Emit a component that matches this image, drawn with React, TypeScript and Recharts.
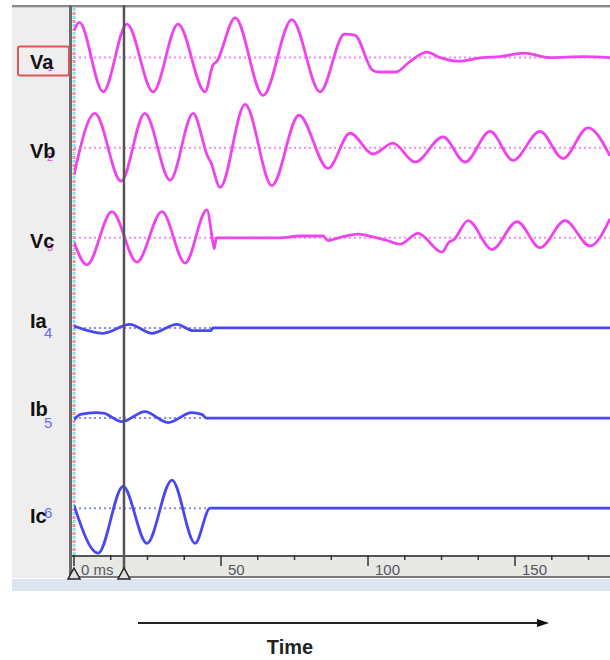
import React from "react";
import {
  ComposedChart,
  Line,
  XAxis,
  YAxis,
  ReferenceLine,
  ReferenceDot,
} from "recharts";

// channel names, top to bottom
const ROW_LABELS = ["Va", "Vb", "Vc", "Ia", "Ib", "Ic"];
const CHANNEL_NO = ["1", "2", "3", "4", "5", "6"];

// [time ms, value], one row spacing = 1.0
const VA = [
  [0, 0.3], [1.8, 0.39], [9.9, -0.38], [18.0, 0.37], [26.9, -0.38],
  [35.4, 0.37], [44.6, -0.38], [47.3, -0.08], [48.4, -0.05], [54.8, 0.44],
  [64.3, -0.42], [74.1, 0.42], [83.7, -0.38], [92.0, 0.26], [95.5, 0.25],
  [101.5, -0.14], [103.5, -0.16], [109.5, -0.16], [114, -0.05], [120, 0.06],
  [124.5, 0.0], [130.6, -0.04], [139, 0.0], [145, 0.01], [153, 0.05],
  [162, 0.0], [173, 0.01], [182.3, 0.0],
];
const VB = [
  [0, -0.3], [7.1, 0.38], [16.0, -0.37], [24.1, 0.38], [32.7, -0.36],
  [40.5, 0.38], [45.5, -0.1], [46.5, -0.16], [49.7, -0.44], [58.2, 0.48],
  [67.3, -0.42], [76.5, 0.36], [86.4, -0.23], [93.9, 0.16], [101.7, -0.07],
  [108.5, 0.05], [116, -0.16], [125.5, 0.12], [133, -0.16], [141.5, 0.18],
  [149.3, -0.14], [158.5, 0.18], [166.3, -0.12], [174.8, 0.22], [182.3, -0.09],
];
const VC = [
  [0, -0.05], [4.4, -0.3], [12.9, 0.29], [21.4, -0.27], [29.9, 0.29],
  [37.8, -0.28], [45.2, 0.31], [47.3, -0.06], [47.7, -0.12], [48.4, 0.0],
  [70, 0.0], [76.9, 0.02], [84.7, 0.02], [86.4, -0.03], [90, 0.0],
  [96.6, 0.04], [101.7, 0.01], [106.5, -0.03], [110.9, -0.07], [117, 0.05],
  [125.2, -0.16], [127.5, -0.05], [129.2, -0.02], [134, 0.19], [142.2, -0.13],
  [150.7, 0.18], [158.5, -0.11], [167, 0.19], [175.5, -0.09], [182.3, 0.21],
];
const IA = [
  [0, 0.02], [9.9, -0.06], [19, 0.04], [26.5, -0.06], [35, 0.04],
  [40.5, -0.03], [46.5, -0.03], [47.3, 0.0], [182.3, 0.0],
];
const IB = [
  [0, -0.02], [2.2, 0.04], [7.5, 0.06], [10, 0.055], [16.3, -0.04],
  [24.1, 0.07], [32, -0.05], [40, 0.06], [43.5, 0.04], [45, 0.0],
  [182.3, 0.0],
];
const IC = [
  [0, 0.03], [8.2, -0.5], [16.7, 0.24], [24.8, -0.39], [33.3, 0.31],
  [41.2, -0.39], [46.3, 0.0], [182.3, 0.0],
];

const SERIES = [VA, VB, VC, IA, IB, IC];
const TIME_TICKS = [0, 12.5, 25, 37.5, 50, 62.5, 75, 87.5, 100, 112.5, 125, 137.5, 150, 162.5, 175];
const CURSOR_MS = 17;

const V_COLOR = "#ee44ee";
const V_BASE = "#f28af2";
const I_COLOR = "#4848f0";
const I_BASE = "#8a8af6";
const FONT = "'Liberation Sans', Arial, sans-serif";

const rowOf = (i: number) => ROW_LABELS.length - 1 - i;
const isVoltage = (i: number) => ROW_LABELS[i].startsWith("V");

const LABEL_DY: Record<string, number> = { Va: 11, Vb: 10, Vc: 10, Ia: 0, Ib: -2, Ic: 15 };

function RowLabel(props: any) {
  const { y, payload } = props;
  const i = ROW_LABELS.length - 1 - payload.value;
  const name = ROW_LABELS[i];
  const volt = isVoltage(i);
  return (
    <g>
      <text
        x={volt ? 47 : 44}
        y={y + (volt ? 13 : 10)}
        fontSize={volt ? 11 : 15}
        fontFamily={FONT}
        fill={volt ? V_COLOR : "#6a6af5"}
      >
        {CHANNEL_NO[i]}
      </text>
      {name === "Va" && (
        <rect x={18} y={y - 11} width={51} height={29} rx={2} fill="none" stroke="#e05555" strokeWidth={2} />
      )}
      <text x={30} y={y + LABEL_DY[name]} fontSize={20} fontWeight="bold" fontFamily={FONT} fill="#111">
        {name}
      </text>
    </g>
  );
}

function TimeTick(props: any) {
  const { x, y, payload } = props;
  const v = payload.value;
  const major = v % 50 === 0;
  return (
    <g>
      <line x1={x} x2={x} y1={y} y2={y + (major ? 11 : 5)} stroke="#333" strokeWidth={1.5} />
      {major && (
        <text x={x + 7} y={y + 20} fontSize={15} fontFamily={FONT} fill="#556">
          {v === 0 ? "0 ms" : v}
        </text>
      )}
    </g>
  );
}

function CursorMark(props: any) {
  const { cx, cy } = props;
  return (
    <path
      d={`M${cx - 6},${cy + 24} L${cx + 6},${cy + 24} L${cx},${cy + 13} Z`}
      fill="#e0e0e0"
      stroke="#222"
      strokeWidth={1.5}
    />
  );
}

export default function App() {
  return (
    <div style={{ position: "absolute", left: 0, top: 0, width: 610, height: 660, background: "#fff", fontFamily: FONT }}>
      {/* left channel panel */}
      <div style={{ position: "absolute", left: 12, top: 7, width: 58, height: 571, background: "#eeeeee" }} />
      {/* time axis strip */}
      <div style={{ position: "absolute", left: 70, top: 555, width: 540, height: 23, background: "#e8e8e4", borderTop: "2px solid #555", borderBottom: "2px solid #7a7a7a", boxSizing: "border-box" }} />
      <div style={{ position: "absolute", left: 12, top: 579, width: 598, height: 12, background: "#dde6f0" }} />
      {/* top frame */}
      <div style={{ position: "absolute", left: 12, top: 5, width: 598, height: 2, background: "#888" }} />
      <div style={{ position: "absolute", left: 12, top: 7, width: 598, height: 1, background: "#d0d0d0" }} />
      {/* left axis line */}
      <div style={{ position: "absolute", left: 69, top: 5, width: 3, height: 573, background: "#6a6a6a" }} />

      <div style={{ position: "absolute", left: 0, top: 0 }}>
        <ComposedChart width={610} height={660} margin={{ top: 8, right: 0, left: 0, bottom: 83 }}>
          <XAxis
            type="number"
            dataKey="t"
            domain={[0, 182.3]}
            allowDataOverflow
            ticks={TIME_TICKS}
            interval={0}
            tick={<TimeTick />}
            tickLine={false}
            axisLine={false}
            tickSize={0}
            tickMargin={0}
            height={22}
          />
          <YAxis
            type="number"
            domain={[-0.52, 5.55]}
            allowDataOverflow
            ticks={[0, 1, 2, 3, 4, 5]}
            interval={0}
            tick={<RowLabel />}
            tickLine={false}
            axisLine={false}
            width={74}
          />
          <ReferenceLine x={0} stroke="#80e2e2" strokeWidth={3} strokeDasharray="3 5" />
          <ReferenceLine x={0} stroke="#f09090" strokeWidth={3} strokeDasharray="3 5" strokeDashoffset={4} />
          {SERIES.map((_, i) => (
            <ReferenceLine
              key={`base-${i}`}
              y={rowOf(i)}
              stroke={isVoltage(i) ? V_BASE : I_BASE}
              strokeWidth={2}
              strokeDasharray="2 3"
            />
          ))}
          {SERIES.map((pts, i) => (
            <Line
              key={ROW_LABELS[i]}
              data={pts.map(([t, v]) => ({ t, y: rowOf(i) + v }))}
              dataKey="y"
              type="monotone"
              dot={false}
              stroke={isVoltage(i) ? V_COLOR : I_COLOR}
              strokeWidth={2.8}
              isAnimationActive={false}
            />
          ))}
          <ReferenceLine
            segment={[{ x: CURSOR_MS, y: 5.58 }, { x: CURSOR_MS, y: -0.77 }]}
            ifOverflow="visible"
            stroke="#555"
            strokeWidth={2.5}
          />
          <ReferenceDot x={0} y={-0.52} ifOverflow="visible" shape={<CursorMark />} />
          <ReferenceDot x={CURSOR_MS} y={-0.52} ifOverflow="visible" shape={<CursorMark />} />
        </ComposedChart>
      </div>

      <svg style={{ position: "absolute", left: 0, top: 600 }} width={610} height={60}>
        <line x1={138} y1={23} x2={540} y2={23} stroke="#222" strokeWidth={2} />
        <path d="M537,19 L549,23 L537,27 Z" fill="#111" />
        <text x={290} y={54} textAnchor="middle" fontSize={20} fontWeight="bold" fontFamily={FONT} fill="#222">
          Time
        </text>
      </svg>
    </div>
  );
}
